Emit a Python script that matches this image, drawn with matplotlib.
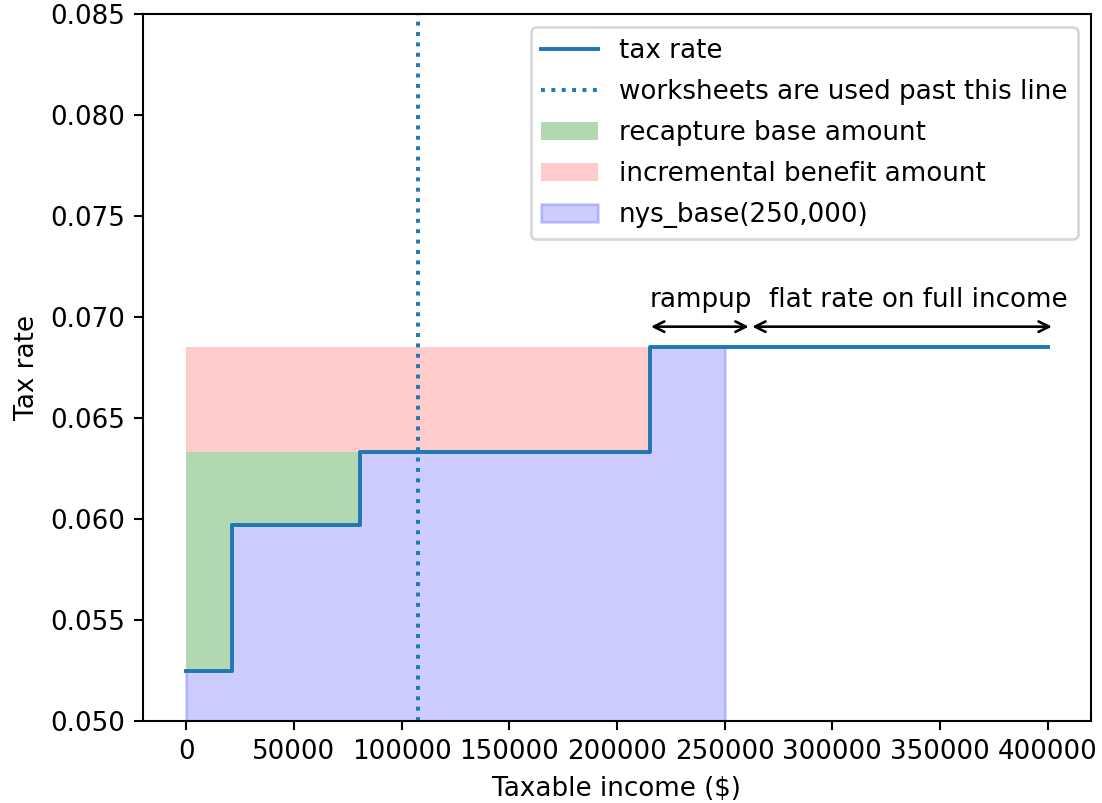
import matplotlib
matplotlib.use('Agg')
import matplotlib.pyplot as plt
import numpy as np

# NYS bracket starts and rates
bracket_starts = [0, 21400, 80650, 215400, 400000]
bracket_rates = [0.0525, 0.0597, 0.0633, 0.0685, 0.0685]

worksheet_line = 107650
recapture_end = 80650
benefit_end = 215400
base_income = 250000

DPI = 188
fig = plt.figure(figsize=(1102 / DPI, 803 / DPI), dpi=DPI)
ax = fig.add_axes([0.130, 0.1021, 0.8597, 0.8801])

x = np.array(bracket_starts)
rates = np.array(bracket_rates)

ax.step(x, rates, where='post', label='tax rate', lw=1.5)
ax.axvline(worksheet_line, linestyle=':', label='worksheets are used past this line')

# green: between rate and 6.33% up to the recapture end
xg = x[x <= recapture_end]
rg = rates[:len(xg)]
ax.fill_between(xg, rg, bracket_rates[2], step='post', color='g', alpha=0.3,
                label='recapture base amount', lw=0)

# red: 6.33% -> 6.85% up to benefit end
ax.fill_between([0, benefit_end], bracket_rates[2], bracket_rates[3], color='r',
                alpha=0.2, label='incremental benefit amount', lw=0)

# blue: under rate up to 250k
xb = np.append(x[x <= base_income], base_income)
rb = np.append(rates[:len(xb) - 1], rates[len(xb) - 2])
ax.fill_between(xb, 0.05, rb, step='post', color='b', alpha=0.2,
                label='nys_base(250,000)')

# arrows above the flat part
arr_y = 0.06953
ax.annotate('', xy=(215800, arr_y), xytext=(261200, arr_y),
            arrowprops=dict(arrowstyle='<->', shrinkA=0, shrinkB=0))
ax.annotate('', xy=(262800, arr_y), xytext=(402000, arr_y),
            arrowprops=dict(arrowstyle='<->', shrinkA=0, shrinkB=0))
ax.text(benefit_end, 0.0702, 'rampup', ha='left', va='bottom')
ax.text(270600, 0.0702, 'flat rate on full income', ha='left', va='bottom')

ax.set_ylim(0.05, 0.085)
ax.set_xlabel('Taxable income ($)')
ax.set_ylabel('Tax rate')
ax.legend(loc='upper right', handlelength=2.17, labelspacing=0.58)

fig.savefig('out.png', dpi=DPI)
